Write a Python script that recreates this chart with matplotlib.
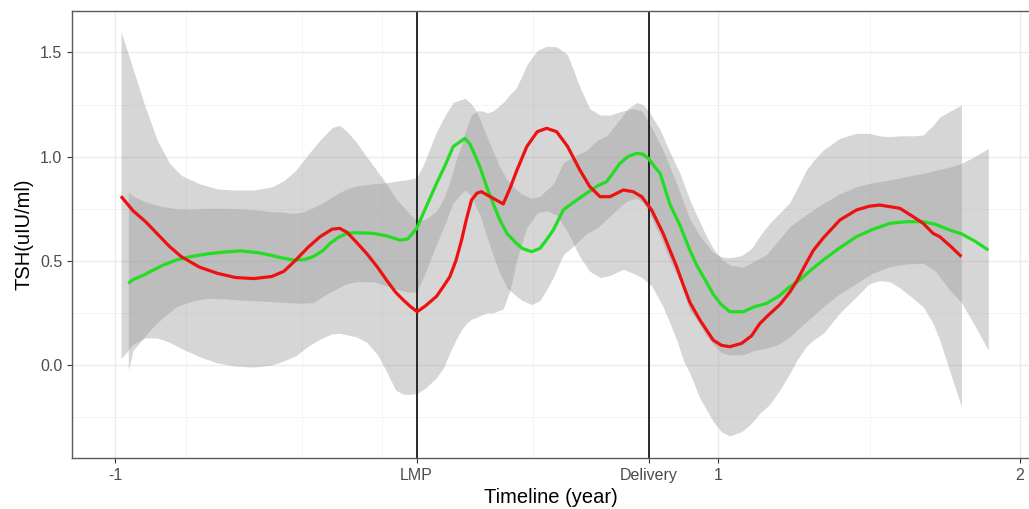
import matplotlib
matplotlib.use("Agg")
import matplotlib.pyplot as plt

# ---------------- data ----------------
red_x = [-0.98, -0.94, -0.90, -0.86, -0.82, -0.78, -0.72, -0.66, -0.60, -0.54,
         -0.48, -0.44, -0.40, -0.36, -0.32, -0.28, -0.255, -0.23, -0.20, -0.166,
         -0.13, -0.10, -0.07, -0.044, -0.02, 0.002, 0.03, 0.066, 0.09, 0.11,
         0.13, 0.149, 0.165, 0.182, 0.20, 0.215, 0.235, 0.254, 0.287, 0.31,
         0.331, 0.365, 0.40, 0.431, 0.464, 0.50, 0.541, 0.574, 0.608, 0.641,
         0.685, 0.718, 0.746, 0.779, 0.817, 0.84, 0.862, 0.885, 0.906, 0.939,
         0.983, 1.01, 1.038, 1.077, 1.11, 1.138, 1.17, 1.204, 1.237, 1.259,
         1.292, 1.315, 1.348, 1.403, 1.458, 1.50, 1.535, 1.569, 1.602, 1.646,
         1.679, 1.712, 1.734, 1.77, 1.806]
red_y = [0.81, 0.74, 0.69, 0.63, 0.57, 0.52, 0.47, 0.44, 0.42, 0.415,
         0.425, 0.45, 0.505, 0.565, 0.616, 0.652, 0.656, 0.636, 0.59, 0.536,
         0.47, 0.408, 0.35, 0.312, 0.28, 0.256, 0.285, 0.33, 0.38, 0.424,
         0.50, 0.60, 0.70, 0.792, 0.825, 0.832, 0.815, 0.80, 0.773, 0.85,
         0.93, 1.048, 1.12, 1.136, 1.12, 1.05, 0.936, 0.856, 0.808, 0.808,
         0.84, 0.832, 0.808, 0.744, 0.632, 0.55, 0.472, 0.38, 0.30, 0.216,
         0.12, 0.095, 0.088, 0.104, 0.14, 0.20, 0.245, 0.29, 0.35, 0.40,
         0.49, 0.55, 0.61, 0.696, 0.744, 0.762, 0.768, 0.76, 0.752, 0.712,
         0.68, 0.632, 0.616, 0.57, 0.52]
red_lo = [0.03, 0.10, 0.13, 0.13, 0.11, 0.08, 0.04, 0.01, -0.005, -0.01,
          0.0, 0.02, 0.045, 0.09, 0.125, 0.15, 0.152, 0.145, 0.135, 0.11,
          0.05, -0.03, -0.12, -0.14, -0.14, -0.136, -0.11, -0.06, -0.01, 0.06,
          0.12, 0.17, 0.20, 0.22, 0.23, 0.24, 0.25, 0.25, 0.27, 0.36,
          0.50, 0.66, 0.73, 0.74, 0.72, 0.64, 0.52, 0.45, 0.42, 0.43,
          0.46, 0.44, 0.42, 0.38, 0.28, 0.20, 0.12, 0.02, -0.04, -0.16,
          -0.27, -0.32, -0.34, -0.32, -0.28, -0.23, -0.19, -0.12, -0.04, 0.02,
          0.09, 0.12, 0.152, 0.25, 0.328, 0.39, 0.405, 0.40, 0.37, 0.32,
          0.28, 0.20, 0.12, -0.04, -0.20]
red_hi = [1.60, 1.42, 1.24, 1.08, 0.97, 0.91, 0.87, 0.845, 0.84, 0.84,
          0.855, 0.885, 0.935, 1.01, 1.08, 1.14, 1.15, 1.12, 1.07, 1.0,
          0.93, 0.87, 0.80, 0.76, 0.72, 0.69, 0.70, 0.74, 0.80, 0.88,
          0.98, 1.06, 1.14, 1.20, 1.22, 1.22, 1.21, 1.22, 1.26, 1.30,
          1.33, 1.44, 1.51, 1.53, 1.527, 1.49, 1.335, 1.23, 1.20, 1.20,
          1.22, 1.23, 1.22, 1.14, 1.03, 0.95, 0.87, 0.78, 0.70, 0.62,
          0.54, 0.52, 0.515, 0.525, 0.56, 0.62, 0.68, 0.73, 0.78, 0.84,
          0.936, 0.98, 1.032, 1.088, 1.112, 1.112, 1.10, 1.096, 1.10, 1.10,
          1.104, 1.15, 1.19, 1.22, 1.248]

green_x = [-0.956, -0.94, -0.90, -0.884, -0.84, -0.796, -0.75, -0.696, -0.64, -0.586,
           -0.53, -0.486, -0.45, -0.409, -0.375, -0.343, -0.31, -0.287, -0.26, -0.232,
           -0.20, -0.144, -0.10, -0.055, -0.03, 0.0, 0.022, 0.044, 0.066, 0.095,
           0.121, 0.16, 0.177, 0.193, 0.21, 0.232, 0.255, 0.276, 0.30, 0.331,
           0.35, 0.381, 0.409, 0.43, 0.453, 0.486, 0.519, 0.563, 0.60, 0.63,
           0.674, 0.70, 0.729, 0.75, 0.768, 0.79, 0.807, 0.84, 0.873, 0.906,
           0.928, 0.96, 0.983, 1.01, 1.038, 1.083, 1.12, 1.16, 1.20, 1.237,
           1.27, 1.31, 1.348, 1.40, 1.458, 1.51, 1.569, 1.624, 1.679, 1.72,
           1.767, 1.806, 1.85, 1.895]
green_y = [0.392, 0.41, 0.435, 0.448, 0.48, 0.504, 0.52, 0.533, 0.542, 0.548,
           0.54, 0.528, 0.515, 0.504, 0.505, 0.52, 0.55, 0.584, 0.612, 0.632,
           0.635, 0.632, 0.62, 0.60, 0.605, 0.655, 0.728, 0.80, 0.872, 0.96,
           1.048, 1.088, 1.06, 1.008, 0.95, 0.856, 0.77, 0.696, 0.63, 0.584,
           0.56, 0.544, 0.56, 0.60, 0.648, 0.744, 0.78, 0.824, 0.86, 0.88,
           0.968, 1.0, 1.016, 1.012, 0.992, 0.95, 0.92, 0.77, 0.67, 0.55,
           0.48, 0.40, 0.34, 0.29, 0.256, 0.256, 0.28, 0.296, 0.33, 0.376,
           0.408, 0.46, 0.504, 0.56, 0.616, 0.65, 0.68, 0.688, 0.688, 0.675,
           0.648, 0.63, 0.595, 0.552]
green_lo = [-0.024, 0.07, 0.14, 0.168, 0.23, 0.28, 0.305, 0.32, 0.318, 0.312,
            0.308, 0.305, 0.302, 0.298, 0.297, 0.30, 0.33, 0.35, 0.37, 0.39,
            0.40, 0.40, 0.38, 0.36, 0.35, 0.35, 0.42, 0.50, 0.58, 0.68,
            0.78, 0.84, 0.82, 0.77, 0.72, 0.62, 0.52, 0.44, 0.37, 0.33,
            0.31, 0.29, 0.31, 0.36, 0.42, 0.53, 0.57, 0.63, 0.66, 0.70,
            0.76, 0.79, 0.80, 0.78, 0.74, 0.67, 0.62, 0.50, 0.40, 0.26,
            0.22, 0.14, 0.10, 0.06, 0.048, 0.05, 0.07, 0.08, 0.10, 0.136,
            0.18, 0.23, 0.28, 0.34, 0.392, 0.44, 0.472, 0.485, 0.488, 0.45,
            0.36, 0.30, 0.19, 0.072]
green_hi = [0.832, 0.81, 0.785, 0.776, 0.76, 0.75, 0.748, 0.752, 0.752, 0.75,
            0.744, 0.738, 0.735, 0.728, 0.735, 0.755, 0.78, 0.80, 0.825, 0.845,
            0.86, 0.87, 0.875, 0.885, 0.89, 0.90, 0.96, 1.04, 1.12, 1.20,
            1.26, 1.28, 1.26, 1.23, 1.18, 1.10, 1.02, 0.95, 0.89, 0.84,
            0.82, 0.80, 0.81, 0.84, 0.87, 0.97, 1.00, 1.03, 1.08, 1.10,
            1.18, 1.23, 1.26, 1.25, 1.22, 1.17, 1.13, 1.02, 0.92, 0.79,
            0.72, 0.62, 0.56, 0.51, 0.48, 0.47, 0.50, 0.53, 0.60, 0.664,
            0.70, 0.74, 0.776, 0.82, 0.856, 0.875, 0.888, 0.905, 0.92, 0.935,
            0.95, 0.968, 1.00, 1.04]

x_ticks = [-1, 0, 0.77, 1, 2]
x_labels = ["-1", "LMP", "Delivery", "1", "2"]
x_minor = [-0.766, -0.381, -0.116, 0.387, 1.502]
y_ticks = [0.0, 0.5, 1.0, 1.5]
y_labels = ["0.0", "0.5", "1.0", "1.5"]
y_minor = [-0.25, 0.25, 0.75, 1.25]
event_x = [0, 0.77]

# ---------------- figure ----------------
plt.rcParams['font.family'] = ['Liberation Sans', 'DejaVu Sans']

W, H = 1029, 509
fig = plt.figure(figsize=(W / 100, H / 100), dpi=100)
fig.patch.set_facecolor('white')
ax = fig.add_axes([72 / W, 51 / H, (W - 72) / W, 447 / H])

ax.set_xlim(-1.1425, 2.03)
ax.set_ylim(-0.446, 1.699)

# grid
for v in x_ticks:
    ax.axvline(v, color='#ebebeb', lw=1.0, zorder=0)
for v in x_minor:
    ax.axvline(v, color='#f3f3f3', lw=0.6, zorder=0)
for v in y_ticks:
    ax.axhline(v, color='#ebebeb', lw=1.0, zorder=0)
for v in y_minor:
    ax.axhline(v, color='#f3f3f3', lw=0.6, zorder=0)

# ribbons
ax.fill_between(red_x, red_lo, red_hi, color='#999999', alpha=0.4, lw=0, zorder=1)
ax.fill_between(green_x, green_lo, green_hi, color='#999999', alpha=0.4, lw=0, zorder=1)

# event lines
for v in event_x:
    ax.axvline(v, color='#1a1a1a', lw=1.3, zorder=2)

# lines
ax.plot(green_x, green_y, color='#22dd22', lw=2.3, zorder=3, solid_capstyle='butt')
ax.plot(red_x, red_y, color='#ee1111', lw=2.3, zorder=4, solid_capstyle='butt')

ax.set_xticks(x_ticks)
ax.set_xticklabels(x_labels)
ax.set_yticks(y_ticks)
ax.set_yticklabels(y_labels)
ax.tick_params(axis='both', which='major', length=3.5, width=0.8, color='#333333',
               labelcolor='#4d4d4d', labelsize=11.5, pad=3.5)

for s in ['left', 'top', 'bottom']:
    ax.spines[s].set_color('#5a5a5a')
    ax.spines[s].set_linewidth(1.0)
ax.spines['right'].set_visible(False)

ax.set_xlabel("Timeline (year)", fontsize=14.5, color='black', labelpad=4)
ax.set_ylabel("TSH(uIU/ml)", fontsize=14.5, color='black', labelpad=5)

fig.savefig("out.png", dpi=100, facecolor='white')
